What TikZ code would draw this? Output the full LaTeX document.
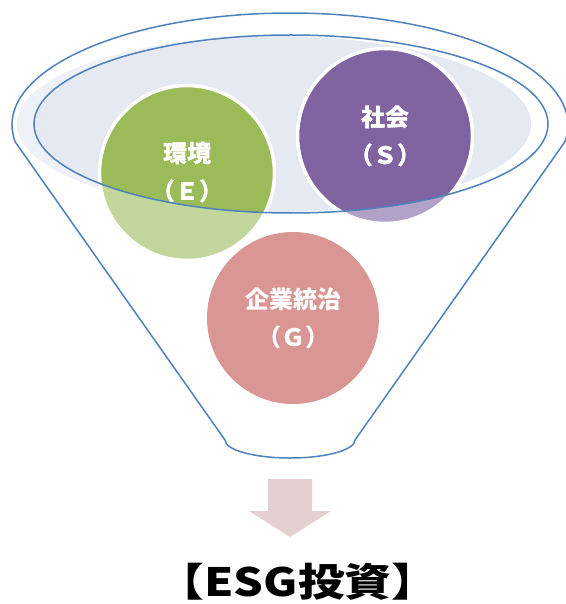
\documentclass[tikz,border=0pt]{standalone}
\usepackage{fontspec}
\newfontfamily\jp{Noto Sans CJK JP}
\definecolor{fline}{HTML}{4F81BD}
\definecolor{pale}{HTML}{E4E9F2}
\definecolor{cgreen}{HTML}{9BBB59}
\definecolor{cpurple}{HTML}{8064A2}
\definecolor{cpink}{HTML}{D99694}
\definecolor{carrow}{HTML}{E6CFD0}
\newcommand\myfunnel{(C) ++(188.7:278pt and 112pt) arc[start angle=188.7, end angle=-8.7, x radius=278pt, y radius=112pt] -- (BR) arc[start angle=0, end angle=-180, x radius=65pt, y radius=18pt] -- cycle}
\tikzset{
  esgball/.style={circle, minimum size=175pt, inner sep=0pt, text=white, align=center, font=\jp\bfseries\fontsize{24}{38}\selectfont},
  ballrim/.style={draw=white, line width=3.5pt},
  funnelline/.style={draw=fline, line width=1.5pt}
}
\begin{document}
\begin{tikzpicture}[x=1pt,y=-1pt]
\useasboundingbox (0,0) rectangle (565,604);
\coordinate (C) at (290,125);
\coordinate (BR) at (355,440);
\coordinate (I) at (291,124);
% pale surface
\fill[pale] (274,124) ellipse[x radius=257pt, y radius=88pt];
% E and S balls
\node[esgball, fill=cgreen, ballrim] (E) at (187,173) {環境\\（Ｅ）};
\node[esgball, fill=cpurple, ballrim] (S) at (385,136) {社会\\（Ｓ）};
% washed overlay of funnel body
\fill[white, opacity=0.4, even odd rule] \myfunnel (I) ellipse[x radius=257pt, y radius=89pt];
% redraw text so it stays crisp
\node[esgball] at (E) {環境\\（Ｅ）};
\node[esgball] at (S) {社会\\（Ｓ）};
% funnel outlines
\draw[funnelline] \myfunnel;
\draw[funnelline] (I) ellipse[x radius=257pt, y radius=89pt];
% G ball
\node[esgball, fill=cpink, minimum size=172pt] (G) at (293,318) {企業統治\\（Ｇ）};
% arrow
\fill[carrow] (268,479) -- (312,479) -- (312,511) -- (331,511) -- (290,537) -- (249,511) -- (268,511) -- cycle;
% title
\node[font=\jp\bfseries\fontsize{39}{39}\selectfont, inner sep=0pt] (T) at (298,582) {\scalebox{1.2}[1]{【ESG投資】}};
\end{tikzpicture}
\end{document}
